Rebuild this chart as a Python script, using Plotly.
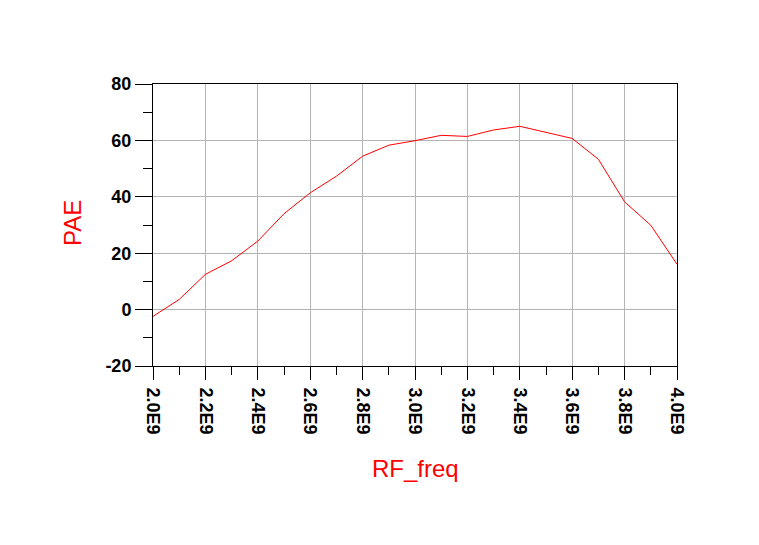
import plotly.graph_objects as go

freq_ghz = [2.0, 2.1, 2.2, 2.3, 2.4, 2.5, 2.6, 2.7, 2.8, 2.9, 3.0,
            3.1, 3.2, 3.3, 3.4, 3.5, 3.6, 3.7, 3.8, 3.9, 4.0]
pae = [-2.4, 3.6, 12.5, 17.3, 24.3, 34.0, 41.4, 47.3, 54.4, 58.3, 59.9,
       61.8, 61.4, 63.7, 65.0, 62.8, 60.7, 53.3, 38.2, 29.9, 16.1]
x_tick_vals = [2.0, 2.2, 2.4, 2.6, 2.8, 3.0, 3.2, 3.4, 3.6, 3.8, 4.0]
x_tick_text = ["2.0E9", "2.2E9", "2.4E9", "2.6E9", "2.8E9", "3.0E9",
               "3.2E9", "3.4E9", "3.6E9", "3.8E9", "4.0E9"]
y_tick_vals = [-20, 0, 20, 40, 60, 80]
y_tick_text = ["-20", "0", "20", "40", "60", "80"]

freq_hz = [f * 1e9 for f in freq_ghz]

fig = go.Figure()
fig.add_trace(go.Scatter(x=freq_hz, y=pae, mode="lines",
                         line=dict(color="#ff0000", width=1),
                         hoverinfo="skip", showlegend=False))

tickfont = dict(family="Liberation Sans, Arial, sans-serif", size=18,
                color="black", weight="bold")
titlefont = dict(family="Liberation Sans, Arial, sans-serif", size=24, color="#ff0000")

fig.update_layout(
    width=759, height=545,
    margin=dict(l=145, r=90, t=76, b=187, autoexpand=False),
    paper_bgcolor="white", plot_bgcolor="white",
    xaxis=dict(range=[2.0e9, 4.0e9],
               tickvals=[v * 1e9 for v in x_tick_vals], ticktext=x_tick_text,
               tickangle=90, tickfont=tickfont, ticklabelstandoff=4,
               ticks="outside", ticklen=13, tickwidth=1, tickcolor="black",
               showgrid=True, gridcolor="#b4b4b4", gridwidth=1,
               showline=True, linecolor="black", linewidth=1, mirror=True,
               zeroline=False,
               minor=dict(dtick=0.1e9, tick0=2.0e9, ticks="outside", ticklen=8,
                          tickcolor="black", tickwidth=1, showgrid=False)),
    yaxis=dict(range=[-20, 80], tickvals=y_tick_vals, ticktext=y_tick_text,
               tickfont=tickfont,
               ticks="outside", ticklen=17, tickwidth=1, tickcolor="black",
               showgrid=True, gridcolor="#b4b4b4", gridwidth=1,
               showline=True, linecolor="black", linewidth=1, mirror=True,
               zeroline=False,
               minor=dict(dtick=10, tick0=-20, ticks="outside", ticklen=9,
                          tickcolor="black", tickwidth=1, showgrid=False)),
    annotations=[
        dict(text="RF_freq", xref="paper", yref="paper", x=0.5, y=0,
             yshift=-102, xanchor="center", yanchor="middle", showarrow=False,
             font=titlefont),
        dict(text="PAE", xref="paper", yref="paper", x=0, y=0.507,
             xshift=-81, xanchor="center", yanchor="middle", showarrow=False,
             textangle=-90, font=titlefont),
    ],
)

fig.write_html("out.html")
